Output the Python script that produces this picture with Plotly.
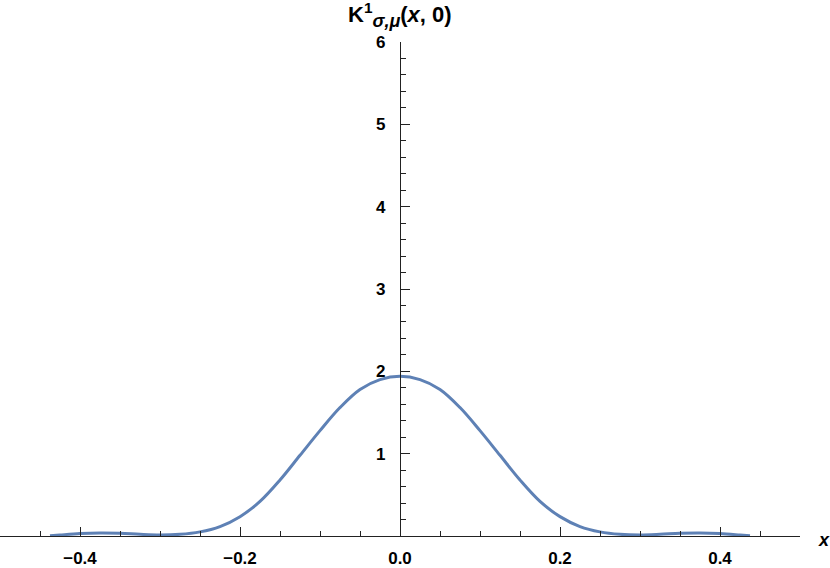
import plotly.graph_objects as go

# curve
x_vals = [-0.4375, -0.425, -0.40, -0.375, -0.35, -0.325, -0.30, -0.275, -0.25, -0.225,
          -0.20, -0.175, -0.15, -0.125, -0.10, -0.075, -0.05, -0.025, 0.0,
          0.025, 0.05, 0.075, 0.10, 0.125, 0.15, 0.175, 0.20, 0.225, 0.25,
          0.275, 0.30, 0.325, 0.35, 0.375, 0.40, 0.425, 0.4375]
k_vals = [0.002, 0.012, 0.03, 0.037, 0.033, 0.02, 0.012, 0.02, 0.05, 0.115,
          0.235, 0.42, 0.68, 0.98, 1.28, 1.56, 1.78, 1.90, 1.94,
          1.90, 1.78, 1.56, 1.28, 0.98, 0.68, 0.42, 0.235, 0.115, 0.05,
          0.02, 0.012, 0.02, 0.033, 0.037, 0.03, 0.012, 0.002]

x_ticks = [-0.4, -0.2, 0.0, 0.2, 0.4]
x_tick_text = ["\u22120.4", "\u22120.2", "0.0", "0.2", "0.4"]
y_ticks = [1, 2, 3, 4, 5, 6]

font = "Liberation Sans, Arial, sans-serif"
axis_col = "#222222"

fig = go.Figure()
fig.add_trace(go.Scatter(x=x_vals, y=k_vals, mode="lines",
                         line=dict(color="#5e81b5", width=3, shape="spline", smoothing=1.0),
                         hoverinfo="skip"))

fig.update_layout(
    width=830, height=568,
    margin=dict(l=0, r=30, t=42, b=32),
    plot_bgcolor="white", paper_bgcolor="white",
    showlegend=False,
    font=dict(family=font, size=17, color="black"),
)

fig.update_xaxes(
    range=[-0.5, 0.5], showgrid=False, zeroline=False, automargin=False,
    showline=True, linecolor=axis_col, linewidth=1.3,
    tickmode="array", tickvals=x_ticks, ticktext=x_tick_text,
    ticks="inside", ticklen=9, tickwidth=1.2, tickcolor=axis_col,
    tickfont=dict(family=font, size=17, color="black", weight="bold"),
    ticklabelstandoff=6,
    minor=dict(ticks="inside", dtick=0.05, tick0=0, ticklen=5, tickwidth=1, tickcolor=axis_col),
)

fig.update_yaxes(
    range=[0, 6], showgrid=False, zeroline=False, automargin=False,
    anchor="free", position=0.5, side="left",
    showline=True, linecolor=axis_col, linewidth=1.3,
    tickmode="array", tickvals=y_ticks,
    ticks="inside", ticklen=9, tickwidth=1.2, tickcolor=axis_col,
    tickfont=dict(family=font, size=17, color="black", weight="bold"),
    ticklabelstandoff=11,
    minor=dict(ticks="inside", dtick=0.2, tick0=0, ticklen=5, tickwidth=1, tickcolor=axis_col),
)

fig.add_annotation(
    x=0, y=6, xref="x", yref="y", yshift=27, showarrow=False,
    text=("<b>K<sup>1</sup><sub><span style='font-size:18px'><i>\u03c3,\u03bc</i></span></sub>"
          "(<i>x</i>, 0)</b>"),
    font=dict(family=font, size=22, color="black"),
)
fig.add_annotation(
    x=1, y=0, xref="paper", yref="y", xanchor="left", xshift=16, yshift=-4,
    showarrow=False, text="<b><i>x</i></b>",
    font=dict(family=font, size=18, color="black"),
)

# page body has an 8px default margin; drop it so the figure sits at the corner
fig.write_html("out.html", config={"displayModeBar": False},
               post_script="document.body.style.margin='0px';")
